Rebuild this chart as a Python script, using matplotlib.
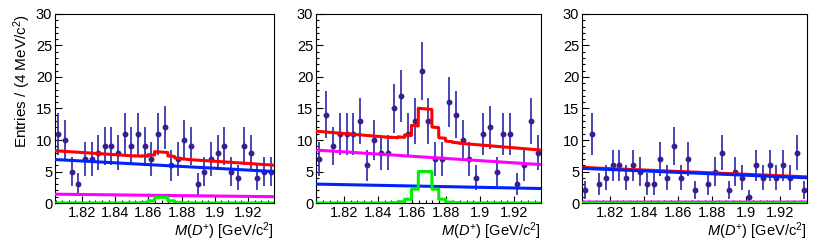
import matplotlib
matplotlib.use('Agg')
import matplotlib.pyplot as plt
import numpy as np
from matplotlib.ticker import MultipleLocator, FormatStrFormatter

plt.rcParams['font.family'] = ['Liberation Sans', 'DejaVu Sans']
plt.rcParams['mathtext.fontset'] = 'custom'
plt.rcParams['mathtext.rm'] = 'Liberation Sans'
plt.rcParams['mathtext.it'] = 'Liberation Sans:italic'

# binning: 33 bins of 4 MeV around the D+ mass
x_lo, x_hi, nbins = 1.8037, 1.9357, 33
edges = np.linspace(x_lo, x_hi, nbins + 1)
centers = 0.5 * (edges[:-1] + edges[1:])

# data counts per bin
data1 = [11, 10, 5, 3, 7, 7, 8, 9, 9, 8, 11, 9, 11, 9, 7, 11, 12, 6, 7, 10, 9, 3, 5, 7, 8, 9, 5, 4, 9, 8, 4, 5, 5]
data2 = [7, 14, 9, 11, 11, 11, 13, 6, 10, 8, 8, 15, 17, 11, 13, 21, 13, 7, 7, 16, 14, 10, 7, 4, 11, 12, 5, 11, 11, 3, 6, 13, 8]
data3 = [2, 11, 3, 4, 6, 6, 4, 6, 5, 3, 3, 7, 4, 9, 4, 7, 2, 0, 3, 5, 8, 2, 5, 4, 1, 6, 4, 6, 4, 6, 4, 8, 2]

# fit components: linear backgrounds (value at left edge, value at right edge)
blue1, mag1 = (6.9, 5.0), (1.4, 1.0)
blue2, mag2 = (3.0, 2.3), (8.4, 6.1)
blue3, mag3 = (5.5, 4.0), (0.15, 0.15)

# signal shape per bin (non-zero bins only, bin index -> height)
sig1 = {12: 0.03, 13: 0.1, 14: 0.35, 15: 0.9, 16: 0.9, 17: 0.35, 18: 0.1, 19: 0.03}
sig2 = {11: 0.05, 12: 0.2, 13: 0.6, 14: 2.2, 15: 5.0, 16: 5.0, 17: 2.2, 18: 0.6, 19: 0.15, 20: 0.05}
sig3 = {}

panels = [(data1, blue1, mag1, sig1), (data2, blue2, mag2, sig2), (data3, blue3, mag3, sig3)]

fig = plt.figure(figsize=(8.3, 2.43), dpi=100)
boxes = [[0.0663, 0.1646, 0.2639, 0.7778],
         [0.3807, 0.1646, 0.2711, 0.7778],
         [0.7012, 0.1646, 0.2711, 0.7778]]

xf = np.linspace(x_lo, x_hi, 3000)
idx = np.clip(((xf - x_lo) / 0.004).astype(int), 0, nbins - 1)

for i, (data, blue, mag, sig) in enumerate(panels):
    ax = fig.add_axes(boxes[i])
    t = (xf - x_lo) / (x_hi - x_lo)
    b = blue[0] + (blue[1] - blue[0]) * t
    m = mag[0] + (mag[1] - mag[0]) * t
    s_bins = np.zeros(nbins)
    for k, v in sig.items():
        s_bins[k] = v
    s = s_bins[idx]
    tot = b + m + s

    d = np.array(data, dtype=float)
    keep = d > 0
    ax.errorbar(centers[keep], d[keep], yerr=np.sqrt(d[keep]), xerr=0.0011,
                fmt='o', ms=3.2, color='#3a1d8e', ecolor='#3838b0',
                elinewidth=1.3, capsize=0, zorder=2)

    ax.plot(xf, tot, color='#ff0000', lw=2.2, zorder=3)
    ax.plot(xf, b, color='#0022ff', lw=2.2, zorder=4)
    ax.plot(xf, m, color='#ff00ff', lw=2.2, zorder=4)
    ax.plot(xf, s, color='#00ee00', lw=2.2, zorder=4)

    ax.set_xlim(x_lo, x_hi)
    ax.set_ylim(0, 30)
    ax.xaxis.set_major_locator(MultipleLocator(0.02))
    ax.xaxis.set_minor_locator(MultipleLocator(0.004))
    ax.xaxis.set_major_formatter(FormatStrFormatter('%g'))
    ax.yaxis.set_major_locator(MultipleLocator(5))
    ax.yaxis.set_minor_locator(MultipleLocator(1))
    ax.tick_params(which='both', direction='in', top=False, right=False,
                   labelsize=10.5, width=0.8)
    ax.tick_params(which='major', length=5)
    ax.tick_params(which='minor', length=2.5)
    ax.tick_params(axis='x', pad=2.5)
    ax.tick_params(axis='y', pad=2)
    for sp in ax.spines.values():
        sp.set_linewidth(0.8)
    ax.set_xlabel(r'$M(D^{+})$ [GeV/c$^{2}$]', fontsize=10.5, loc='right', labelpad=0)
    if i == 0:
        ax.set_ylabel(r'Entries / (4 MeV/c$^{2}$)', fontsize=11, loc='top', labelpad=2)

fig.savefig('out.png', dpi=100)
